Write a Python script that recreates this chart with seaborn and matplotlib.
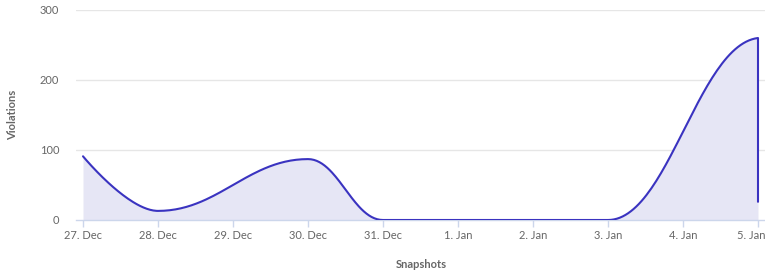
import numpy as np
import pandas as pd
import matplotlib
matplotlib.use("Agg")
import matplotlib.pyplot as plt
import matplotlib.transforms as mtransforms
import seaborn as sns

# ---- data ----
tick_labels = ["27. Dec", "28. Dec", "29. Dec", "30. Dec", "31. Dec",
               "1. Jan", "2. Jan", "3. Jan", "4. Jan", "5. Jan"]
snapshot_day = [0, 1, 3, 4, 7, 9, 9]        # days after 27 Dec
violations = [91, 13, 87, 0, 0, 260, 26]
y_ticks = [0, 100, 200, 300]

LINE = "#3a33c0"
FILL = "#e6e6f5"
GRID = "#e6e6e6"
AXIS = "#ccd6eb"
TEXT = "#666666"


def highcharts_spline(xs, ys, smoothing=1.5, n=60):
    xs = [float(v) for v in xs]
    ys = [float(v) for v in ys]
    m = len(xs)
    lc = [(xs[i], ys[i]) for i in range(m)]
    rc = [(xs[i], ys[i]) for i in range(m)]
    den = smoothing + 1
    for i in range(1, m - 1):
        px, py = xs[i], ys[i]
        lx, ly = xs[i - 1], ys[i - 1]
        nx, ny = xs[i + 1], ys[i + 1]
        lcx = (smoothing * px + lx) / den
        lcy = (smoothing * py + ly) / den
        rcx = (smoothing * px + nx) / den
        rcy = (smoothing * py + ny) / den
        if rcx != lcx:
            corr = (rcy - lcy) * (rcx - px) / (rcx - lcx) + py - rcy
            lcy += corr
            rcy += corr
            if lcy > ly and lcy > py:
                lcy = max(ly, py)
                rcy = 2 * py - lcy
            elif lcy < ly and lcy < py:
                lcy = min(ly, py)
                rcy = 2 * py - lcy
            if rcy > ny and rcy > py:
                rcy = max(ny, py)
                lcy = 2 * py - rcy
            elif rcy < ny and rcy < py:
                rcy = min(ny, py)
                lcy = 2 * py - rcy
        lc[i] = (lcx, lcy)
        rc[i] = (rcx, rcy)
    t = np.linspace(0, 1, n)
    ox, oy = [xs[0]], [ys[0]]
    for i in range(1, m):
        p0 = (xs[i - 1], ys[i - 1])
        p1 = rc[i - 1]
        p2 = lc[i]
        p3 = (xs[i], ys[i])
        b0 = (1 - t) ** 3
        b1 = 3 * (1 - t) ** 2 * t
        b2 = 3 * (1 - t) * t ** 2
        b3 = t ** 3
        bx = b0 * p0[0] + b1 * p1[0] + b2 * p2[0] + b3 * p3[0]
        by = b0 * p0[1] + b1 * p1[1] + b2 * p2[1] + b3 * p3[1]
        ox.extend(bx[1:])
        oy.extend(by[1:])
    return np.array(ox), np.array(oy)


sx, sy = highcharts_spline(snapshot_day, violations)
curve = pd.DataFrame({"x": sx, "y": sy})

sns.set_theme(style="white")
plt.rcParams["font.family"] = ["Lato", "DejaVu Sans"]

fig = plt.figure(figsize=(7.65, 2.76), dpi=100)
ax = fig.add_axes([76 / 765, 1 - 220 / 276, (765 - 76) / 765, (220 - 10) / 276])

ax.fill_between(sx, 0, sy, color=FILL, linewidth=0, zorder=1)
sns.lineplot(data=curve, x="x", y="y", sort=False, estimator=None,
             color=LINE, linewidth=1.5, ax=ax, zorder=3)

pad = 7 / 75
ax.set_xlim(-pad, 9 + pad)
ax.set_ylim(0, 300)

ax.set_yticks(y_ticks)
ax.set_yticklabels([str(v) for v in y_ticks])
ax.set_xticks(range(len(tick_labels)))
ax.set_xticklabels(tick_labels)

for v in y_ticks[1:]:
    ax.axhline(v, color=GRID, linewidth=1, zorder=0)

for s in ["top", "right", "left"]:
    ax.spines[s].set_visible(False)
ax.spines["bottom"].set_color(AXIS)
ax.spines["bottom"].set_linewidth(1)
ax.spines["bottom"].set_zorder(2)

ax.tick_params(axis="x", which="major", length=5, width=1, color=AXIS,
               labelsize=8, labelcolor=TEXT, pad=2, bottom=True)
ax.tick_params(axis="y", length=0, labelsize=8, labelcolor=TEXT, pad=12)
ax.grid(False)

# keep the last date label inside the figure, as in the reference
last = ax.get_xticklabels()[-1]
last.set_transform(last.get_transform() +
                   mtransforms.ScaledTranslation(-7 / 100, 0, fig.dpi_scale_trans))

ax.set_xlabel("Snapshots", fontsize=8, fontweight="bold", color=TEXT)
ax.set_ylabel("Violations", fontsize=8, fontweight="bold", color=TEXT)
ax.xaxis.set_label_coords((421 - 76) / 689, (220 - 265) / 210)
ax.yaxis.set_label_coords((13 - 76) / 689, 0.5)
ax.xaxis.label.set_va("center")
ax.yaxis.label.set_va("center")

fig.savefig("out.png", dpi=100)
